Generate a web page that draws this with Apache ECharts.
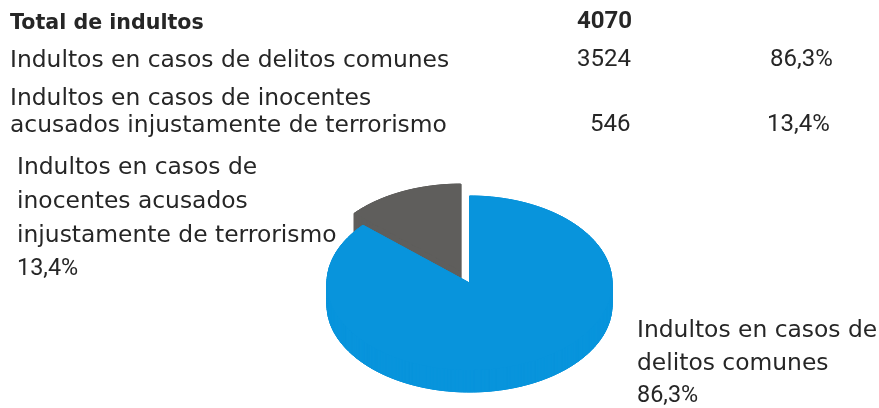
<!DOCTYPE html>
<html>
<head>
<meta charset="utf-8">
<script src="https://cdn.jsdelivr.net/npm/echarts@6/dist/echarts.min.js"></script>
<style>
  html, body { margin: 0; padding: 0; background: #ffffff; }
  #chart { width: 879px; height: 408px; }
</style>
</head>
<body>
<div id="chart"></div>
<script>
// Pardons granted, split by type of case
const categories = [
  'Indultos en casos de delitos comunes',
  'Indultos en casos de inocentes acusados injustamente de terrorismo'
];
const counts = [3524, 546];
const shares = [86.3, 13.4];
const totalLabel = 'Total de indultos';
const totalCount = 4070;

// Line breaks for the summary table and the pie labels
const tableLines = [
  ['Indultos en casos de delitos comunes'],
  ['Indultos en casos de inocentes', 'acusados injustamente de terrorismo']
];
const pieLines = [
  ['Indultos en casos de', 'delitos comunes'],
  ['Indultos en casos de', 'inocentes acusados', 'injustamente de terrorismo']
];

const sliceColors = ['#0894dc', '#5f5e5c'];
const textColor = '#262626';
const textFont = '"DejaVu Sans", sans-serif';
const numFont = 'Roboto, sans-serif';
const fs = 23.4;
const numFs = 24;

const fmtPct = v => v.toFixed(1).replace('.', ',') + '%';

// ---- pie geometry (data units of the hidden cartesian grid) ----
const shareSum = shares.reduce((a, b) => a + b, 0);
const startAngles = [];
{
  let acc = 0;
  shares.forEach(s => { startAngles.push(acc / shareSum * 2 * Math.PI); acc += s; });
}
const DEPTH = 0.253;          // thickness of the disc
const EXPLODE = [0, 0.15];    // pull-out distance per slice

function renderSlice(params, api) {
  const i = params.dataIndex;
  const a0 = startAngles[i];
  const a1 = a0 + api.value(1) / shareSum * 2 * Math.PI;
  const mid = (a0 + a1) / 2;
  const ox = Math.sin(mid) * EXPLODE[i];
  const oy = Math.cos(mid) * EXPLODE[i];
  const n = Math.max(8, Math.ceil((a1 - a0) / (2 * Math.PI) * 240));
  const face = [[ox, oy]];
  for (let k = 0; k <= n; k++) {
    const t = a0 + (a1 - a0) * k / n;
    face.push([ox + Math.sin(t), oy + Math.cos(t)]);
  }
  const topPx = face.map(p => api.coord([p[0], p[1]]));
  const botPx = face.map(p => api.coord([p[0], p[1] - DEPTH]));
  const color = sliceColors[i];
  const style = { fill: color, stroke: color, lineWidth: 1 };
  const z2 = i === 0 ? 10 : 0;
  const children = [];
  children.push({ type: 'polygon', z2, shape: { points: botPx }, style });
  for (let j = 0; j < face.length; j++) {
    const nx = (j + 1) % face.length;
    children.push({
      type: 'polygon', z2,
      shape: { points: [topPx[j], topPx[nx], botPx[nx], botPx[j]] },
      style
    });
  }
  children.push({ type: 'polygon', z2, shape: { points: topPx }, style });
  return { type: 'group', children };
}

// ---- text blocks ----
function txt(x, baseline, text, font, weight, size) {
  return {
    type: 'text', x: x, y: baseline - size * 0.36, silent: true,
    style: {
      text: text, fill: textColor, fontFamily: font, fontSize: size,
      fontWeight: weight || 'normal', align: 'left', verticalAlign: 'middle'
    }
  };
}

const graphics = [];
// summary table
graphics.push(txt(10, 31, totalLabel, textFont, 'bold', 20.6));
graphics.push(txt(577, 31, String(totalCount), numFont, 'bold', numFs));
const tableBaselines = [[69], [107, 134]];
const countX = [577, 590];
const pctX = [770, 767];
tableLines.forEach((lines, i) => {
  lines.forEach((line, k) => graphics.push(txt(10, tableBaselines[i][k], line, textFont, 'normal', fs)));
  const last = tableBaselines[i][lines.length - 1];
  graphics.push(txt(countX[i], last, String(counts[i]), numFont, 'normal', numFs));
  graphics.push(txt(pctX[i], last, fmtPct(shares[i]), numFont, 'normal', numFs));
});
// pie labels
const pieLabelPos = [
  { x: 637, baselines: [339, 372, 405] },
  { x: 17, baselines: [176, 210, 244, 278] }
];
pieLines.forEach((lines, i) => {
  const pos = pieLabelPos[i];
  lines.forEach((line, k) => graphics.push(txt(pos.x, pos.baselines[k], line, textFont, 'normal', fs)));
  graphics.push(txt(pos.x, pos.baselines[lines.length], fmtPct(shares[i]), numFont, 'normal', fs));
});

const chart = echarts.init(document.getElementById('chart'), null, { renderer: 'canvas' });
chart.setOption({
  animation: false,
  backgroundColor: '#ffffff',
  grid: { left: 327, top: 196, width: 285, height: 208.8 },
  xAxis: { type: 'value', min: -1, max: 1, show: false },
  yAxis: { type: 'value', min: -1.4, max: 1, show: false },
  series: [{
    type: 'custom',
    coordinateSystem: 'cartesian2d',
    clip: false,
    silent: true,
    dimensions: ['idx', 'share'],
    encode: { x: 'idx', y: 'idx' },
    data: shares.map((s, i) => ({ name: categories[i], value: [i, s] })),
    renderItem: renderSlice
  }],
  graphic: graphics
});
</script>
</body>
</html>
